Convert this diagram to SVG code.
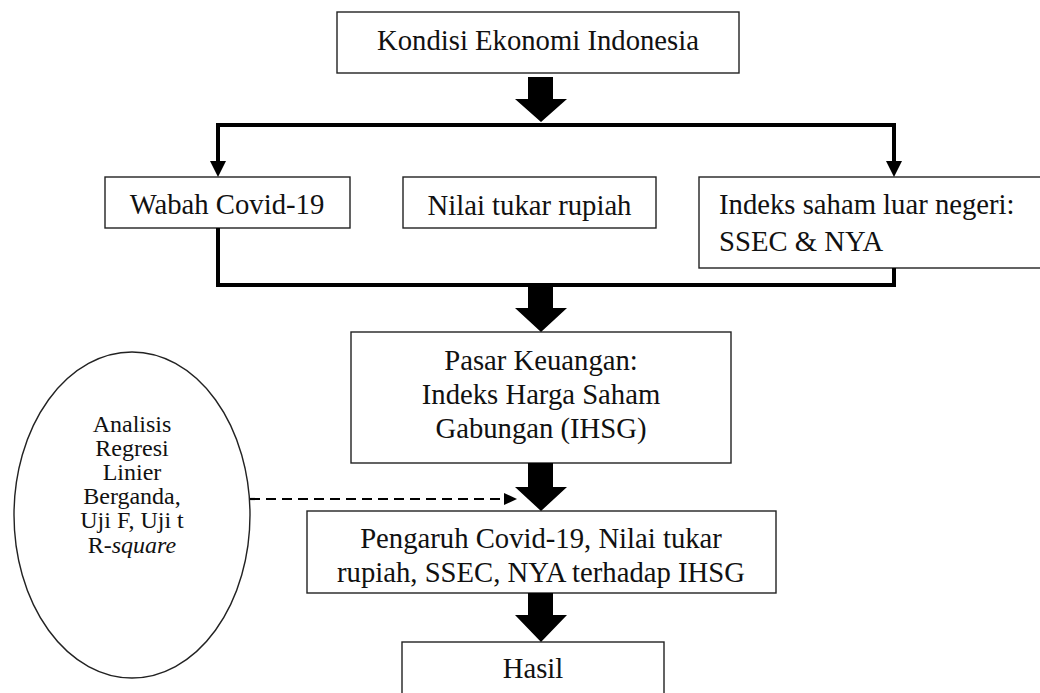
<svg xmlns="http://www.w3.org/2000/svg" width="1040" height="693" viewBox="0 0 1040 693" font-family="Liberation Serif">
<style>
.box{fill:#fff;stroke:#222;stroke-width:1.4}
text{font-family:'Liberation Serif','Times New Roman',serif}
.t{font-size:28.7px;fill:#111}
.c{text-anchor:middle}
.e{font-size:24px;text-anchor:middle;fill:#111}
.ln{fill:none;stroke:#000;stroke-width:4}
.big{fill:#000}
</style>
<defs>
<clipPath id="clipP"><rect x="300" y="505" width="490" height="87"/></clipPath>
</defs>
<rect width="1040" height="693" fill="#fff"/>
<g id="n-kondisi">
<rect class="box" x="337" y="12" width="402" height="61"/>
<text class="t c" x="538" y="50">Kondisi Ekonomi Indonesia</text>
</g>
<g id="n-wabah">
<rect class="box" x="105" y="177" width="245" height="51"/>
<text class="t c" x="227" y="214">Wabah Covid-19</text>
</g>
<g id="n-nilai">
<rect class="box" x="403" y="177" width="253" height="51"/>
<text class="t c" x="529.5" y="215">Nilai tukar rupiah</text>
</g>
<g id="n-indeks">
<rect class="box" x="699" y="177" width="350" height="91"/>
<text class="t" x="719" y="214">Indeks saham luar negeri:</text>
<text class="t" x="719" y="251">SSEC &amp; NYA</text>
</g>
<g id="n-pasar">
<rect class="box" x="351" y="332" width="380" height="131"/>
<text class="t c" x="541" y="370">Pasar Keuangan:</text>
<text class="t c" x="541" y="404">Indeks Harga Saham</text>
<text class="t c" x="541" y="438">Gabungan (IHSG)</text>
</g>
<g id="n-pengaruh">
<rect class="box" x="307" y="511" width="469" height="82"/>
<g clip-path="url(#clipP)">
<text class="t c" x="541" y="548">Pengaruh Covid-19, Nilai tukar</text>
<text class="t c" x="541" y="582">rupiah, SSEC, NYA terhadap IHSG</text>
</g>
</g>
<g id="n-hasil">
<rect class="box" x="402" y="642" width="262" height="60"/>
<text class="t c" x="533" y="678">Hasil</text>
</g>
<g id="n-analisis">
<ellipse class="box" cx="132" cy="515" rx="118" ry="163" stroke-width="2"/>
<text class="e" x="132" y="432">Analisis</text>
<text class="e" x="132" y="456">Regresi</text>
<text class="e" x="132" y="480">Linier</text>
<text class="e" x="132" y="504">Berganda,</text>
<text class="e" x="132" y="528">Uji F, Uji t</text>
<text class="e" x="132" y="553">R-<tspan font-style="italic">square</tspan></text>
</g>
<g id="connectors">
<polygon class="big" points="528,77 553,77 553,99 567,99 541,122 515,99 528,99"/>
<path class="ln" d="M218,162 V125 H894 V162"/>
<polygon class="big" points="210,161 226,161 218,177"/>
<polygon class="big" points="886,161 902,161 894,177"/>
<path class="ln" d="M218,228 V285 H894 V268"/>
<polygon class="big" points="528,287 553,287 553,308 567,308 541,332 515,308 528,308"/>
<polygon class="big" points="528,463 553,463 553,487 567,487 541,511 515,487 528,487"/>
<polygon class="big" points="528,593 553,593 553,615 567,615 541,642 515,615 528,615"/>
<path d="M250,499 H505" fill="none" stroke="#000" stroke-width="2.2" stroke-dasharray="10,6"/>
<polygon class="big" points="504,493 517,499 504,505"/>
</g>
</svg>
